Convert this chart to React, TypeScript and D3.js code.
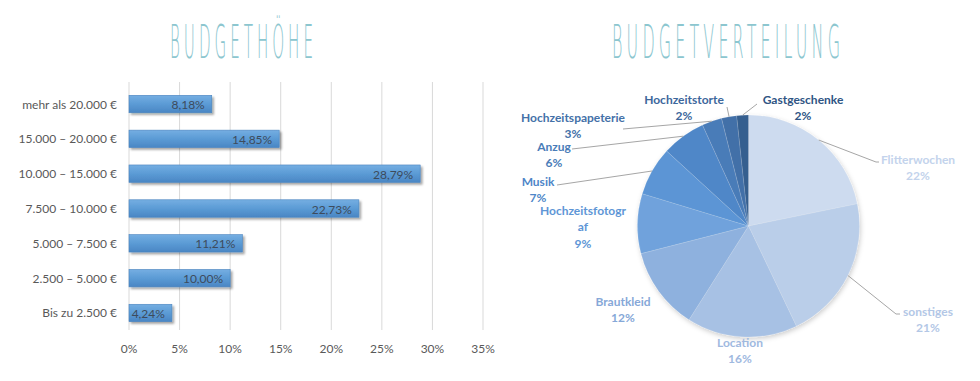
import React, { useEffect, useRef } from "react";
import * as d3 from "d3";

const barCategories = [
  "mehr als 20.000 €",
  "15.000 – 20.000 €",
  "10.000 – 15.000 €",
  "7.500 – 10.000 €",
  "5.000 – 7.500 €",
  "2.500 – 5.000 €",
  "Bis zu 2.500 €",
];
const barValues = [8.18, 14.85, 28.79, 22.73, 11.21, 10.0, 4.24];
const xTicks = [0, 5, 10, 15, 20, 25, 30, 35];

const pieCategories = [
  "Flitterwochen",
  "sonstiges",
  "Location",
  "Brautkleid",
  "Hochzeitsfotograf",
  "Musik",
  "Anzug",
  "Hochzeitspapeterie",
  "Hochzeitstorte",
  "Gastgeschenke",
];
const pieValues = [21.8, 21.1, 16.1, 12.0, 8.7, 7.1, 6.4, 2.9, 2.2, 1.7];

const titles = ["BUDGETHÖHE", "BUDGETVERTEILUNG"];

const pieColors = ["#cddbef", "#bacee9", "#a7c1e4", "#8eb1de", "#6fa2dc", "#5b95d5", "#4f87c8", "#4a7bb8", "#4270a8", "#345e8f"];
const labelColors = ["#c3d3ec", "#b3c7e6", "#9fb9df", "#86a8d8", "#5e96d6", "#4e86c8", "#4a7cb8", "#4471a8", "#3d679c", "#2f5584"];

// label layout (name line centre, optional leader end, optional lines)
const pieLabelLayout = [
  { x: 918, y: 159, lead: [[876, 162], [879, 162]] },
  { x: 928, y: 311, lead: [[896, 314], [900, 314]] },
  { x: 740, y: 342, lead: null },
  { x: 623, y: 301, lead: null },
  { x: 583, y: 210, lead: null, lines: ["Hochzeitsfotogr", "af"] },
  { x: 538, y: 181, lead: [[557, 185]] },
  { x: 554, y: 146, lead: [[572, 149]] },
  { x: 573, y: 117, lead: [[623, 129]] },
  { x: 684, y: 99, lead: [[727, 107]] },
  { x: 803, y: 99, lead: [[757, 104]] },
];
const titleLayout = [
  { x: 170, w: 143 },
  { x: 612, w: 228 },
];
const TITLE_SPACING = 12;

const FONT = "Lato, 'Open Sans', 'DejaVu Sans', sans-serif";

export default function App() {
  const titleRef = useRef<SVGGElement | null>(null);

  useEffect(() => {
    if (!titleRef.current) return;
    d3.select(titleRef.current)
      .selectAll<SVGTextElement, unknown>("text")
      .each(function (_, i) {
        const len = this.getComputedTextLength() - TITLE_SPACING;
        const L = titleLayout[i];
        const s = L.w / len;
        d3.select(this).attr("transform", `translate(${L.x},58) scale(${s},1)`);
      });
  }, []);

  const x = d3.scaleLinear().domain([0, 35]).range([129, 483]);
  const y = d3.scaleBand().domain(barCategories).range([86.6, 330.4]).paddingInner(0.5).paddingOuter(0.25);

  const cx = 748.5;
  const cy = 226;
  const R = 111;
  const pie = d3.pie<number>().sort(null).value((d) => d)(pieValues);
  const arc = d3.arc<d3.PieArcDatum<number>>().innerRadius(0).outerRadius(R);
  const total = d3.sum(pieValues);

  return (
    <svg width={980} height={381} style={{ position: "absolute", left: 0, top: 0, background: "#fff" }}>
      <defs>
        <linearGradient id="barGrad" x1="0" y1="0" x2="0" y2="1">
          <stop offset="0" stopColor="#75aee2" />
          <stop offset="0.5" stopColor="#5b9bd5" />
          <stop offset="1" stopColor="#4a86c4" />
        </linearGradient>
        <filter id="barShadow" x="-10%" y="-30%" width="130%" height="180%">
          <feDropShadow dx="2" dy="2" stdDeviation="1.3" floodColor="#000" floodOpacity="0.35" />
        </filter>
        <filter id="pieShadow" x="-20%" y="-20%" width="140%" height="140%">
          <feDropShadow dx="1" dy="2" stdDeviation="2.5" floodColor="#000" floodOpacity="0.2" />
        </filter>
      </defs>

      {/* Titles */}
      <g ref={titleRef}>
        {titles.map((t, i) => (
          <text
            key={t}
            transform={`translate(${titleLayout[i].x},58) scale(0.4,1)`}
            fontFamily="'DejaVu Sans', sans-serif"
            fontWeight={200}
            fontSize={46}
            letterSpacing={TITLE_SPACING}
            fill="#8cc6cf"
          >
            {t}
          </text>
        ))}
      </g>

      {/* Bar chart gridlines */}
      {xTicks.map((t) => (
        <line key={"g" + t} x1={x(t)} x2={x(t)} y1={82} y2={330} stroke="#d9d9d9" strokeWidth={1} />
      ))}
      {xTicks.map((t) => (
        <text key={"t" + t} x={x(t)} y={348} textAnchor="middle" dominantBaseline="central" fontFamily={FONT} fontSize={12} fill="#595959">
          {t}%
        </text>
      ))}
      {barCategories.map((c, i) => {
        const yy = y(c)!;
        const bh = y.bandwidth();
        return (
          <g key={c}>
            <text x={117} y={yy + bh / 2} textAnchor="end" dominantBaseline="central" fontFamily={FONT} fontSize={12} fill="#595959">
              {c}
            </text>
            <rect
              x={x(0)}
              y={yy}
              width={x(barValues[i]) - x(0)}
              height={bh}
              fill="url(#barGrad)"
              stroke="#4a84bf"
              strokeWidth={0.6}
              filter="url(#barShadow)"
            />
            <text
              x={x(barValues[i]) - 7}
              y={yy + bh / 2 + 0.5}
              textAnchor="end"
              dominantBaseline="central"
              fontFamily={FONT}
              fontSize={12}
              fill="#3d4b5c"
            >
              {barValues[i].toFixed(2).replace(".", ",")}%
            </text>
          </g>
        );
      })}

      {/* Pie */}
      <g transform={`translate(${cx},${cy})`} filter="url(#pieShadow)">
        {pie.map((d, i) => (
          <path key={i} d={arc(d) || ""} fill={pieColors[i]} stroke="#ffffff" strokeOpacity={0.25} strokeWidth={0.5} />
        ))}
      </g>
      {pie.map((d, i) => {
        const L = pieLabelLayout[i];
        const mid = (d.startAngle + d.endAngle) / 2;
        const px = cx + R * Math.sin(mid);
        const py = cy - R * Math.cos(mid);
        const lines = L.lines || [pieCategories[i]];
        const pct = Math.round((pieValues[i] / total) * 100) + "%";
        const all = [...lines, pct];
        return (
          <g key={"l" + i}>
            {L.lead && (
              <polyline
                points={[[px, py], ...L.lead].map((p) => p.join(",")).join(" ")}
                fill="none"
                stroke="#a6a6a6"
                strokeWidth={1}
              />
            )}
            {all.map((s, k) => (
              <text
                key={k}
                x={L.x}
                y={L.y + k * 16.5}
                textAnchor="middle"
                dominantBaseline="central"
                fontFamily={FONT}
                fontWeight={700}
                fontSize={12}
                fill={labelColors[i]}
              >
                {s}
              </text>
            ))}
          </g>
        );
      })}
    </svg>
  );
}
